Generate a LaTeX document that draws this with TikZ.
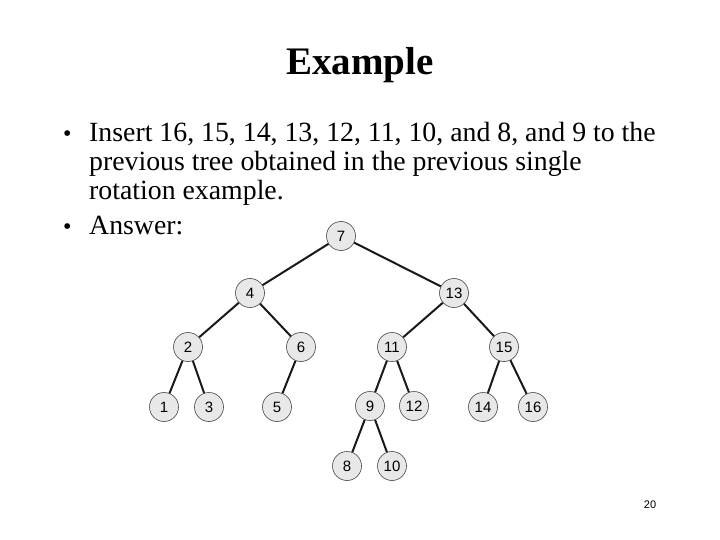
\documentclass[tikz,border=0pt]{standalone}
\usepackage{fontspec}
\setmainfont{Liberation Serif}
\setsansfont{Liberation Sans}
\usepackage{xcolor}
\usepackage{tikz}
\definecolor{nodegray}{RGB}{232,232,232}
\definecolor{linedark}{RGB}{25,25,25}
\definecolor{rimgray}{RGB}{70,70,70}
\tikzset{
  treenode/.style={circle, draw=rimgray, fill=nodegray,
    minimum size=29pt, inner sep=0pt, line width=0.6pt,
    font=\sffamily\fontsize{15}{15}\selectfont},
  treeline/.style={line width=2pt, color=linedark},
  slidetitle/.style={anchor=base, font=\bfseries\fontsize{39}{39}\selectfont},
  bodytext/.style={anchor=base west, align=left, inner sep=0pt,
    font=\fontsize{27.8}{29}\selectfont},
  bulletmark/.style={anchor=base west, inner sep=0pt,
    font=\fontsize{24}{29}\selectfont}
}

\begin{document}
\begin{tikzpicture}[x=1pt, y=-1pt]
  \useasboundingbox (0,0) rectangle (720,540);

  % Title
  \node[slidetitle] (title) at (360, 75) {Example};

  % Bullet points
  \node[bulletmark] (b1) at (63, 142) {\textbullet};
  \node[bodytext] (txt1) at (89, 200) {Insert 16, 15, 14, 13, 12, 11, 10, and 8, and 9 to the\\
    previous tree obtained in the previous single\\
    rotation example.};
  \node[bulletmark] (b2) at (63, 235) {\textbullet};
  \node[bodytext] (txt2) at (89, 235) {Answer:};

  % Tree nodes
  \node[treenode] (n7) at (341, 236) {7};
  \node[treenode] (n4) at (250, 293) {4};
  \node[treenode] (n13) at (454, 293) {13};
  \node[treenode] (n2) at (188, 347) {2};
  \node[treenode] (n6) at (301, 347) {6};
  \node[treenode] (n11) at (392, 347) {11};
  \node[treenode] (n15) at (504, 347) {15};
  \node[treenode] (n1) at (164, 407) {1};
  \node[treenode] (n3) at (209, 407) {3};
  \node[treenode] (n5) at (277, 407) {5};
  \node[treenode] (n9) at (370, 406) {9};
  \node[treenode] (n12) at (414, 406) {12};
  \node[treenode] (n14) at (483, 407) {14};
  \node[treenode] (n16) at (533, 407) {16};
  \node[treenode] (n8) at (347, 466) {8};
  \node[treenode] (n10) at (392, 466) {10};

  % Tree edges
  \draw[treeline] (n7) -- (n4);
  \draw[treeline] (n7) -- (n13);
  \draw[treeline] (n4) -- (n2);
  \draw[treeline] (n4) -- (n6);
  \draw[treeline] (n13) -- (n11);
  \draw[treeline] (n13) -- (n15);
  \draw[treeline] (n2) -- (n1);
  \draw[treeline] (n2) -- (n3);
  \draw[treeline] (n6) -- (n5);
  \draw[treeline] (n11) -- (n9);
  \draw[treeline] (n11) -- (n12);
  \draw[treeline] (n15) -- (n14);
  \draw[treeline] (n15) -- (n16);
  \draw[treeline] (n9) -- (n8);
  \draw[treeline] (n9) -- (n10);

  % Page number
  \node[font=\sffamily\fontsize{11}{11}\selectfont] (pagenum) at (650, 505) {20};
\end{tikzpicture}
\end{document}
